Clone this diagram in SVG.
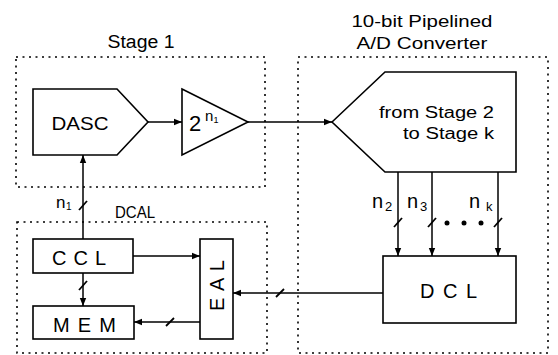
<svg xmlns="http://www.w3.org/2000/svg" width="558" height="355" viewBox="0 0 558 355">
<defs>
<marker id="ah" markerWidth="9" markerHeight="8" refX="8" refY="4" orient="auto" markerUnits="userSpaceOnUse">
<path d="M0,0.8 L8,4 L0,7.2 Z" fill="#000"/>
</marker>
<style>
.dot{fill:none;stroke:#000;stroke-width:1.6;stroke-dasharray:2 4.5}
.box{fill:#fff;stroke:#000;stroke-width:1.6}
.ln{fill:none;stroke:#000;stroke-width:1.5}
.ar{fill:none;stroke:#000;stroke-width:1.5;marker-end:url(#ah)}
.sl{stroke:#000;stroke-width:1.8}
text{font-family:"Liberation Sans","DejaVu Sans",sans-serif;fill:#000}
</style>
</defs>
<rect width="558" height="355" fill="#fff"/>

<g id="stage1">
<rect class="dot" x="16" y="57" width="249" height="130"/>
<text x="141" y="48" font-size="18" text-anchor="middle" textLength="67" lengthAdjust="spacingAndGlyphs">Stage 1</text>
</g>
<g id="adc">
<rect class="dot" x="298" y="57" width="250" height="296"/>
<text x="422" y="27" font-size="17" text-anchor="middle" textLength="141" lengthAdjust="spacingAndGlyphs">10-bit Pipelined</text>
<text x="422" y="49" font-size="17" text-anchor="middle" textLength="131" lengthAdjust="spacingAndGlyphs">A/D Converter</text>
</g>
<g id="dcal">
<rect class="dot" x="17" y="222" width="250" height="131"/>
<text x="115" y="218" font-size="16" textLength="40" lengthAdjust="spacingAndGlyphs">DCAL</text>
</g>

<g id="dasc">
<path class="box" d="M33,89 H117 L148,122 L117,155 H33 Z"/>
<text x="80" y="130" font-size="18" text-anchor="middle" textLength="57" lengthAdjust="spacingAndGlyphs">DASC</text>
</g>
<g id="amp">
<path class="box" d="M182,89 L248,122 L182,155 Z"/>
<text x="189" y="131" font-size="22">2</text>
<text x="205" y="121" font-size="15">n</text>
<text x="213.5" y="123" font-size="9">1</text>
</g>
<g id="stages">
<path class="box" d="M332,122 L385,72 H516 V172 H385 Z"/>
<text x="494" y="118" font-size="16" text-anchor="end" textLength="115" lengthAdjust="spacingAndGlyphs">from Stage 2</text>
<text x="494" y="139" font-size="16" text-anchor="end" textLength="91" lengthAdjust="spacingAndGlyphs">to Stage k</text>
</g>
<g id="dcl">
<rect class="box" x="383" y="256" width="133" height="67"/>
<text x="420" y="298" font-size="20" textLength="57" lengthAdjust="spacing">DCL</text>
</g>
<g id="ccl">
<rect class="box" x="33" y="239" width="100" height="34"/>
<text x="52" y="265" font-size="20" textLength="54" lengthAdjust="spacing">CCL</text>
</g>
<g id="mem">
<rect class="box" x="33" y="306" width="101" height="33"/>
<text x="53" y="332" font-size="20" textLength="63" lengthAdjust="spacing">MEM</text>
</g>
<g id="eal">
<rect class="box" x="200" y="239" width="33" height="100"/>
<text transform="translate(224,311) rotate(-90)" font-size="20" textLength="51" lengthAdjust="spacing">EAL</text>
</g>

<g id="connectors">
<line class="ar" x1="148" y1="122" x2="182" y2="122"/>
<line class="ar" x1="248" y1="122" x2="332" y2="122"/>
<line class="ar" x1="398" y1="172" x2="398" y2="256"/>
<line class="ar" x1="432" y1="172" x2="432" y2="256"/>
<line class="ar" x1="498" y1="172" x2="498" y2="256"/>
<line class="ar" x1="383" y1="293" x2="233" y2="293"/>
<line class="ar" x1="83" y1="239" x2="83" y2="155"/>
<line class="ar" x1="133" y1="256" x2="200" y2="256"/>
<line class="ar" x1="83" y1="273" x2="83" y2="306"/>
<line class="ar" x1="200" y1="322" x2="134" y2="322"/>
<line class="sl" x1="394" y1="227" x2="402" y2="218"/>
<line class="sl" x1="428" y1="227" x2="436" y2="218"/>
<line class="sl" x1="494" y1="227" x2="502" y2="218"/>
<line class="sl" x1="276" y1="297" x2="284" y2="289"/>
<line class="sl" x1="79" y1="210" x2="87" y2="201"/>
<line class="sl" x1="79" y1="290" x2="87" y2="281"/>
<line class="sl" x1="166" y1="326" x2="174" y2="318"/>
<circle cx="447" cy="223" r="2.5"/>
<circle cx="464" cy="223" r="2.5"/>
<circle cx="481" cy="223" r="2.5"/>
<text x="372" y="208" font-size="20">n</text>
<text x="385" y="211" font-size="13">2</text>
<text x="407" y="208" font-size="20">n</text>
<text x="420" y="211" font-size="13">3</text>
<text x="469" y="208" font-size="20">n</text>
<text x="486" y="211" font-size="13">k</text>
<text x="56" y="208" font-size="17">n</text>
<text x="66" y="210" font-size="10">1</text>
</g>
</svg>
